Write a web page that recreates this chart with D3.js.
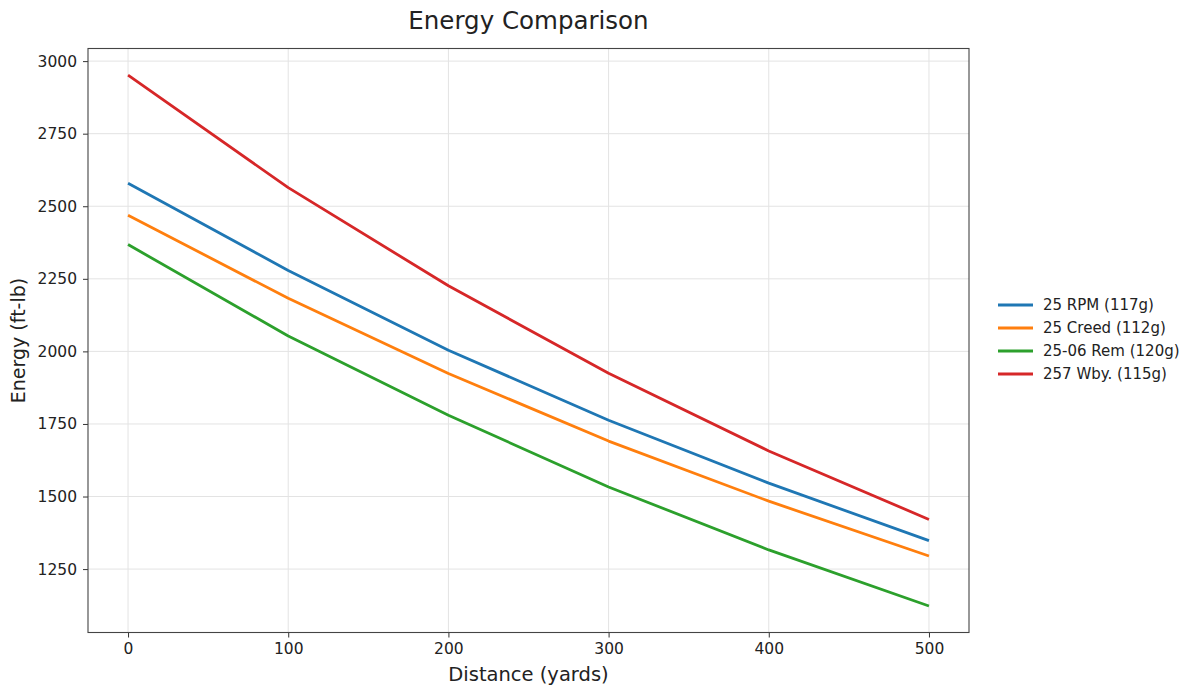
<!DOCTYPE html>
<html>
<head>
<meta charset="utf-8">
<title>Energy Comparison</title>
<script src="https://d3js.org/d3.v7.min.js"></script>
<style>
  body { margin: 0; background: #fff; }
  svg { font-family: "DejaVu Sans", sans-serif; }
</style>
</head>
<body>
<svg width="1200" height="694"></svg>
<script>
// data
const distances = [0, 100, 200, 300, 400, 500];
const cartridges = ["25 RPM (117g)", "25 Creed (112g)", "25-06 Rem (120g)", "257 Wby. (115g)"];
const colors = ["#1f77b4", "#ff7f0e", "#2ca02c", "#d62728"];
const rpmEnergy = [2579, 2279, 2004, 1763, 1546, 1348];
const creedEnergy = [2469, 2183, 1924, 1691, 1484, 1295];
const remEnergy = [2368, 2053, 1780, 1533, 1316, 1123];
const wbyEnergy = [2952, 2564, 2226, 1925, 1657, 1421];
const yTicks = [1250, 1500, 1750, 2000, 2250, 2500, 2750, 3000];

const series = [rpmEnergy, creedEnergy, remEnergy, wbyEnergy].map((vals, i) => ({
  name: cartridges[i],
  color: colors[i],
  points: distances.map((d, j) => ({x: d, y: vals[j]}))
}));

const svg = d3.select("svg");
const margin = {top: 48.5, right: 231, bottom: 61.5, left: 88};
const width = 1200, height = 694;
const innerWidth = width - margin.left - margin.right;
const innerHeight = height - margin.top - margin.bottom;

// matplotlib style 5% padding
const allY = series.flatMap(s => s.points.map(p => p.y));
const yMin = d3.min(allY), yMax = d3.max(allY);
const yPad = (yMax - yMin) * 0.05;

const xScale = d3.scaleLinear().domain([-25, 525]).range([0, innerWidth]);
const yScale = d3.scaleLinear().domain([yMin - yPad, yMax + yPad]).range([innerHeight, 0]);

const g = svg.append("g").attr("transform", `translate(${margin.left},${margin.top})`);

// grid
g.append("g")
  .selectAll("line")
  .data(distances)
  .join("line")
  .attr("x1", d => xScale(d)).attr("x2", d => xScale(d))
  .attr("y1", 0).attr("y2", innerHeight)
  .attr("stroke", "#e3e3e3").attr("stroke-width", 1);

g.append("g")
  .selectAll("line")
  .data(yTicks)
  .join("line")
  .attr("y1", d => yScale(d)).attr("y2", d => yScale(d))
  .attr("x1", 0).attr("x2", innerWidth)
  .attr("stroke", "#e3e3e3").attr("stroke-width", 1);

// axes
const xAxis = g.append("g")
  .attr("transform", `translate(0,${innerHeight})`)
  .call(d3.axisBottom(xScale).tickValues(distances).tickFormat(d3.format("d")).tickSize(5).tickPadding(5));
const yAxis = g.append("g")
  .call(d3.axisLeft(yScale).tickValues(yTicks).tickFormat(d3.format("d")).tickSize(5).tickPadding(6));
[xAxis, yAxis].forEach(a => {
  a.attr("font-family", "DejaVu Sans, sans-serif").attr("font-size", 15.5);
  a.select(".domain").remove();
  a.selectAll(".tick line").attr("stroke", "#333");
  a.selectAll(".tick text").attr("fill", "#222");
});

// frame
g.append("rect")
  .attr("width", innerWidth).attr("height", innerHeight)
  .attr("fill", "none").attr("stroke", "#444").attr("stroke-width", 1.1);

// lines
const line = d3.line().x(d => xScale(d.x)).y(d => yScale(d.y));
g.selectAll("path.series")
  .data(series)
  .join("path")
  .attr("class", "series")
  .attr("d", d => line(d.points))
  .attr("fill", "none")
  .attr("stroke", d => d.color)
  .attr("stroke-width", 2.8)
  .attr("stroke-linejoin", "round");

// title and labels
svg.append("text")
  .attr("x", margin.left + innerWidth / 2)
  .attr("y", 29.3)
  .attr("text-anchor", "middle")
  .style("font-size", "24.5px")
  .attr("fill", "#222")
  .text("Energy Comparison");

svg.append("text")
  .attr("x", margin.left + innerWidth / 2)
  .attr("y", 681)
  .attr("text-anchor", "middle")
  .style("font-size", "19.5px")
  .attr("fill", "#222")
  .text("Distance (yards)");

svg.append("text")
  .attr("transform", `translate(25,${margin.top + innerHeight / 2}) rotate(-90)`)
  .attr("text-anchor", "middle")
  .style("font-size", "19px")
  .attr("fill", "#222")
  .text("Energy (ft-lb)");

// legend
const legend = svg.append("g").attr("transform", "translate(998,305)");
const rows = legend.selectAll("g")
  .data(series)
  .join("g")
  .attr("transform", (d, i) => `translate(0,${i * 23})`);
rows.append("line")
  .attr("x1", 0).attr("x2", 35)
  .attr("stroke", d => d.color)
  .attr("stroke-width", 2.8);
rows.append("text")
  .attr("x", 45)
  .attr("dy", "0.35em")
  .style("font-size", "15px")
  .attr("fill", "#222")
  .text(d => d.name);
</script>
</body>
</html>
